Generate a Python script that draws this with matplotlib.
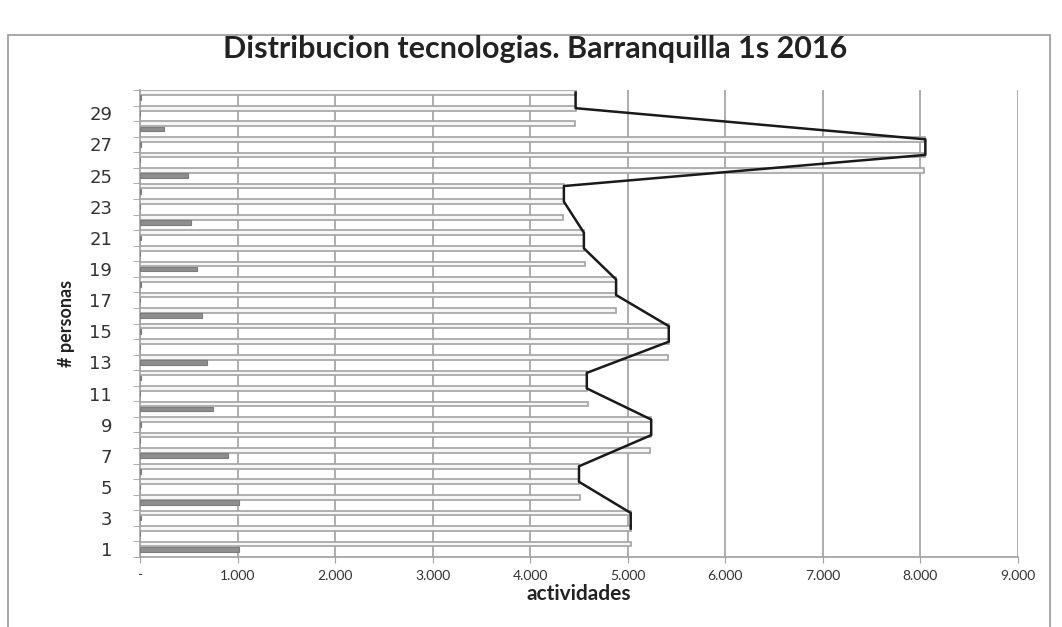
import matplotlib.pyplot as plt
from matplotlib.patches import Rectangle
from matplotlib.ticker import FuncFormatter

# category rows (# personas)
categories = list(range(1, 31))

# light, outlined bars (actividades)
light_values = [5030, 5030, 5030, 4510, 4500, 4500, 5230, 5240, 5240, 4590,
                4580, 4580, 5410, 5420, 5420, 4880, 4880, 4880, 4560, 4550,
                4550, 4340, 4345, 4345, 8040, 8050, 8050, 4460, 4465, 4465]

# dark bars
dark_values = [1020, 0, 15, 1015, 0, 15, 905, 0, 15, 745,
               0, 15, 690, 0, 15, 640, 0, 15, 580, 0,
               15, 520, 0, 15, 495, 0, 15, 250, 0, 15]

# line series (only some rows)
line_cats = [2, 3, 5, 6, 8, 9, 11, 12, 14, 15, 17, 18, 20, 21, 23, 24, 26, 27, 29, 30]
line_values = [5030, 5030, 4500, 4500, 5240, 5240, 4580, 4580, 5420, 5420,
               4880, 4880, 4550, 4550, 4345, 4345, 8050, 8050, 4465, 4465]

x_ticks = [0, 1000, 2000, 3000, 4000, 5000, 6000, 7000, 8000, 9000]
y_labels = [1, 3, 5, 7, 9, 11, 13, 15, 17, 19, 21, 23, 25, 27, 29]


def thousands(v, pos):
    if v == 0:
        return "-"
    return f"{int(v):,}".replace(",", ".")


fig = plt.figure(figsize=(10.62, 6.27), dpi=100)
ax = fig.add_axes([0.1318, 0.1116, 0.8268, 0.7449])

# chart frame
fig.patches.append(Rectangle((8 / 1062, -0.05), 1042 / 1062, 1 - 35 / 627 + 0.05,
                             transform=fig.transFigure, fill=False,
                             edgecolor="#9a9a9a", linewidth=1.2))

bar_h = 0.3
ax.barh([c + 0.33 for c in categories], light_values, height=bar_h,
        color="#f6f6f6", edgecolor="#a3a3a3", linewidth=1.2, zorder=3)
ax.barh(categories, dark_values, height=bar_h,
        color="#8e8e8e", edgecolor="#7c7c7c", linewidth=0.8, zorder=3)
ax.plot(line_values, [c + 0.33 for c in line_cats], color="#1a1a1a",
        linewidth=1.8, zorder=4)

ax.set_xlim(0, 9000)
ax.set_ylim(0.5, 30.5)

ax.set_xticks(x_ticks)
ax.xaxis.set_major_formatter(FuncFormatter(thousands))
ax.grid(axis="x", color="#a0a0a0", linewidth=1.2, zorder=0)
ax.tick_params(axis="x", labelsize=10, length=4, color="#a0a0a0", pad=5)
for lbl in ax.get_xticklabels():
    lbl.set_fontfamily("Lato")
    lbl.set_color("#333333")

ax.set_yticks(y_labels)
ax.set_yticklabels([str(v) for v in y_labels], fontsize=13, color="#333333")
ax.set_yticks([c + 0.5 for c in range(0, 31)], minor=True)
ax.tick_params(axis="y", which="major", length=0, pad=20)
ax.tick_params(axis="y", which="minor", length=5, color="#a0a0a0")

for side in ["top", "right"]:
    ax.spines[side].set_visible(False)
ax.spines["left"].set_color("#a0a0a0")
ax.spines["bottom"].set_color("#a0a0a0")
ax.spines["left"].set_linewidth(1.2)
ax.spines["bottom"].set_linewidth(1.2)

ax.set_xlabel("actividades", fontsize=15, fontweight="bold", family="Lato",
              color="#222222", labelpad=2)
ax.set_ylabel("# personas", fontsize=13, fontweight="bold", family="Lato",
              color="#222222", labelpad=10)

fig.text(0.504, 0.922, "Distribucion tecnologias. Barranquilla 1s 2016",
         ha="center", va="center", fontsize=22, fontweight="bold",
         family="Lato", color="#222222")

fig.savefig("out.png", dpi=100)
